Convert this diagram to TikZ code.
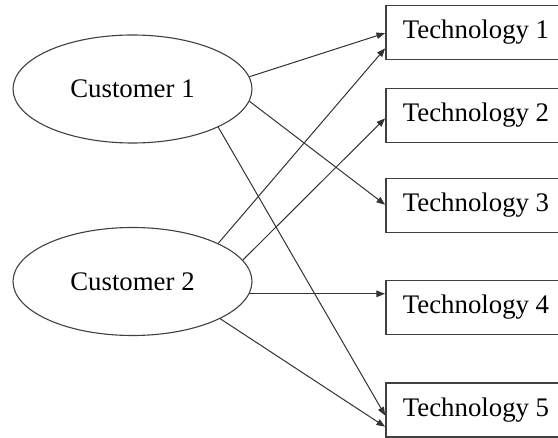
\documentclass[tikz,border=0pt]{standalone}
\usepackage{fontspec}
\setmainfont{Liberation Serif}
\newfontfamily\labelfont{Liberation Serif}
\usetikzlibrary{shapes.geometric,arrows.meta}

\begin{document}
\begin{tikzpicture}[x=1pt,y=-1pt,
  every node/.style={font=\labelfont\fontsize{26.8}{32}\selectfont, text=black},
  customer/.style={ellipse, draw=black!75, line width=1.1pt, inner sep=0pt,
    minimum width=239pt, minimum height=108pt},
  tech/.style={rectangle, draw=black!75, line width=1.1pt, inner sep=0pt,
    minimum width=180pt, minimum height=54pt},
  link/.style={draw=black!80, line width=1pt,
    -{Triangle[length=8.5pt,width=6.5pt]}, shorten >=0.5pt}]
  \useasboundingbox (0,0) rectangle (558,438);
  \clip (0,0) rectangle (558,438);
  \fill[white] (0,0) rectangle (558,438);

  % customers
  \node[customer] (c1) at (132.5,89)    {Customer 1};
  \node[customer] (c2) at (132.5,281.5) {Customer 2};

  % technologies
  \node[tech] (t1) at (476,32.5)  {Technology 1};
  \node[tech] (t2) at (476,115.5) {Technology 2};
  \node[tech] (t3) at (476,205.5) {Technology 3};
  \node[tech] (t4) at (476,307.5) {Technology 4};
  \node[tech] (t5) at (476,410)   {Technology 5};

  % links from Customer 1
  \draw[link] (c1.6.3)   -- ([yshift=-0.5pt]t1.west);
  \draw[link] (c1.-6.2)  -- ([yshift=0.5pt]t3.west);
  \draw[link] (c1.-24.2) -- ([yshift=-6pt]t5.west);

  % links from Customer 2
  \draw[link] (c2.24.5)  -- ([yshift=-15.5pt]t1.west);
  \draw[link] (c2.11.9)  -- ([yshift=-2.5pt]t2.west);
  \draw[link] (c2.-6.4)  -- (c2.-6.4 -| t4.west);
  \draw[link] (c2.-23.9) -- ([yshift=-17pt]t5.west);
\end{tikzpicture}
\end{document}
